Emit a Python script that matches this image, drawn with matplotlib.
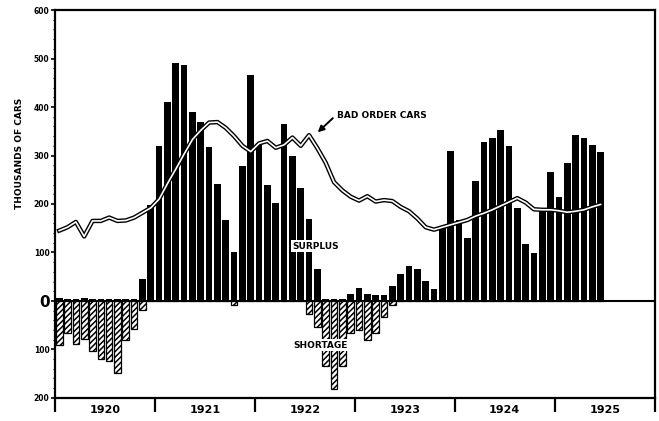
import numpy as np
import matplotlib.pyplot as plt
from matplotlib.ticker import FixedLocator, NullFormatter

# monthly data, Jan 1920 .. Jun 1925 (thousands of cars)
surplus = [5, 4, 4, 7, 3, 3, 3, 3, 3, 4, 45, 198,
           320, 410, 490, 486, 390, 369, 318, 241, 167, 100, 278, 467,
           326, 239, 202, 365, 300, 233, 169, 65, 3, 3, 3, 14,
           27, 14, 12, 12, 30, 55, 73, 65, 41, 25, 155, 310,
           167, 130, 247, 328, 337, 353, 320, 192, 117, 98, 185, 265,
           214, 284, 343, 337, 322, 308]
shortage = [90, 67, 88, 78, 104, 120, 124, 149, 80, 57, 18, 0,
            0, 0, 0, 0, 0, 0, 0, 0, 0, 8, 0, 0,
            0, 0, 0, 0, 0, 0, 26, 53, 135, 182, 135, 67,
            60, 80, 67, 33, 8, 0, 0, 0, 0, 0, 0, 0,
            0, 0, 0, 0, 0, 0, 0, 0, 0, 0, 0, 0,
            0, 0, 0, 0, 0, 0]
bad_order = [145, 152, 163, 133, 165, 165, 172, 165, 166, 172, 182, 192,
             210, 242, 272, 303, 333, 352, 368, 369, 357, 340, 320, 308,
             325, 330, 316, 322, 337, 320, 342, 315, 285, 245, 228, 215,
             207, 216, 205, 208, 206, 194, 185, 170, 152, 147, 152, 157,
             162, 167, 175, 181, 188, 196, 204, 212, 203, 189, 188, 188,
             186, 183, 185, 188, 194, 199]
years = ["1920", "1921", "1922", "1923", "1924", "1925"]
ytick_vals = [600, 500, 400, 300, 200, 100, 0, -100, -200]

x = np.arange(len(surplus)) + 0.5

fig = plt.figure(figsize=(6.59, 4.21), dpi=100)
ax = fig.add_axes([0.0835, 0.055, 0.910, 0.921])
plt.rcParams['hatch.linewidth'] = 1.1

ax.bar(x, surplus, width=0.8, color="black", zorder=2)
ax.bar(x, [-v for v in shortage], width=0.8, facecolor="white",
       edgecolor="black", hatch="//////", linewidth=0.9, zorder=2)

# double line for bad order cars
ax.plot(x, bad_order, color="black", lw=3.2, zorder=3, solid_joinstyle="round")
ax.plot(x, bad_order, color="white", lw=1.2, zorder=4, solid_joinstyle="round")

ax.axhline(0, color="black", lw=1.5, zorder=1)

ax.set_xlim(0, 72)
ax.set_ylim(-200, 600)

# x axis: year boundaries as long ticks, year names in between
ax.xaxis.set_major_locator(FixedLocator(np.arange(0, 73, 12)))
ax.xaxis.set_major_formatter(NullFormatter())
ax.xaxis.set_minor_locator(FixedLocator(np.arange(6, 72, 12)))
ax.set_xticklabels(years, minor=True, fontsize=8, fontweight="bold")
ax.tick_params(axis="x", which="major", direction="out", length=10, width=1.6)
ax.tick_params(axis="x", which="minor", length=0, pad=5)

# y axis
ax.set_yticks(ytick_vals)
ax.set_yticklabels([str(abs(v)) for v in ytick_vals], fontsize=5.5,
                   fontweight="bold")
for lab in ax.get_yticklabels():
    if lab.get_text() == "0":
        lab.set_fontsize(11)
ax.yaxis.set_minor_locator(FixedLocator(np.arange(-200, 601, 20)))
ax.tick_params(axis="y", which="major", direction="out", length=3, width=1.2, pad=1)
ax.tick_params(axis="y", which="minor", direction="out", length=1.5, width=0.8)
ax.set_ylabel("THOUSANDS OF CARS", fontsize=6.5, fontweight="bold")
ax.yaxis.set_label_coords(-0.052, 0.63)

for s in ax.spines.values():
    s.set_linewidth(1.6)

# labels
ax.text(33.8, 383, "BAD ORDER CARS", fontsize=6.5, fontweight="bold",
        va="center", ha="left")
ax.annotate("", xy=(31.3, 344), xytext=(33.6, 381),
            arrowprops=dict(arrowstyle="-|>", color="black", lw=1.4,
                            mutation_scale=9))
ax.text(31.3, 113, "SURPLUS", fontsize=6.5, fontweight="bold", ha="center",
        va="center", zorder=6,
        bbox=dict(facecolor="white", edgecolor="none", pad=1.0))
ax.text(31.9, -91, "SHORTAGE", fontsize=6.5, fontweight="bold", ha="center",
        va="center", zorder=6,
        bbox=dict(facecolor="white", edgecolor="none", pad=1.0))

fig.savefig("out.png", dpi=100)
